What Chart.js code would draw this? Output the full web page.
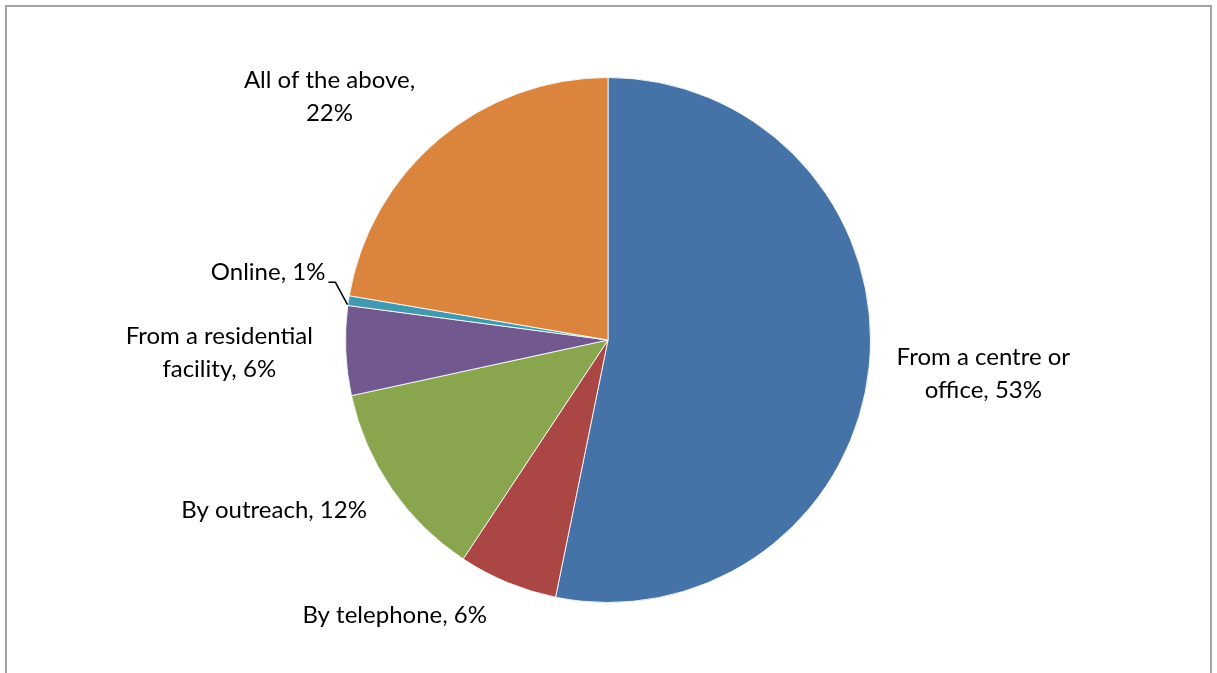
<!DOCTYPE html>
<html>
<head>
<meta charset="utf-8">
<script src="https://cdn.jsdelivr.net/npm/chart.js@4/dist/chart.umd.min.js"></script>
<style>
  html, body { margin: 0; padding: 0; background: #fff; overflow: hidden; }
  #wrap { position: relative; width: 1217px; height: 673px; }
  #frame {
    position: absolute; left: 5px; top: 5px; width: 1203px; height: 700px;
    border: 2px solid #a3a3a3; pointer-events: none;
  }
</style>
</head>
<body>
<div id="wrap">
  <canvas id="pieChart" width="1217" height="673"></canvas>
  <div id="frame"></div>
</div>
<script>
var categories = ["From a centre or office", "By telephone", "By outreach",
                  "From a residential facility", "Online", "All of the above"];
var shares = [53.2, 6.1, 12.3, 5.5, 0.6, 22.3];
var sliceColors = ["#4572A7", "#AA4643", "#89A54E", "#71588F", "#4198AF", "#DB843D"];

// label placement: distance past the rim, then a nudge
var labelPad = 25;
var nudges = [[3, 2], [-68, -6], [-20, -1], [-8, 0], [1, -22], [-38, 2]];
var FONT = '24px Lato';
var LINE_H = 33;
var WRAP_W = 210;

function wrapText(ctx, text, maxW) {
  var words = text.split(' ');
  var lines = [];
  var cur = '';
  words.forEach(function (w) {
    var test = cur ? cur + ' ' + w : w;
    if (cur && ctx.measureText(test).width > maxW) {
      lines.push(cur);
      cur = w;
    } else {
      cur = test;
    }
  });
  if (cur) lines.push(cur);
  return lines;
}

var sliceLabels = {
  id: 'sliceLabels',
  afterDatasetsDraw: function (chart) {
    var ctx = chart.ctx;
    var meta = chart.getDatasetMeta(0);
    ctx.save();
    ctx.font = FONT;
    ctx.fillStyle = '#000';
    ctx.textAlign = 'center';
    ctx.textBaseline = 'middle';
    meta.data.forEach(function (arc, i) {
      var p = arc.getProps(['x', 'y', 'startAngle', 'endAngle', 'outerRadius'], true);
      var mid = (p.startAngle + p.endAngle) / 2;
      var dx = Math.cos(mid), dy = Math.sin(mid);
      var r = p.outerRadius + labelPad;
      var text = categories[i] + ', ' + Math.round(shares[i]) + '%';
      var lines = wrapText(ctx, text, WRAP_W);
      var w = Math.max.apply(null, lines.map(function (l) { return ctx.measureText(l).width; }));
      var h = lines.length * LINE_H;
      var cx = p.x + r * dx + dx * w / 2 + nudges[i][0];
      var cy = p.y + r * dy + dy * h / 2 + nudges[i][1];
      lines.forEach(function (l, k) {
        ctx.fillText(l, cx, cy - h / 2 + LINE_H * (k + 0.5));
      });
      // thin slices get a leader line back to the rim
      if (shares[i] < 2) {
        var ex = p.x + p.outerRadius * dx, ey = p.y + p.outerRadius * dy;
        var lx = cx + w / 2 + 3, ly = cy + 10;
        ctx.beginPath();
        ctx.strokeStyle = '#000';
        ctx.lineWidth = 1.5;
        ctx.moveTo(lx, ly);
        ctx.lineTo(lx + 7, ly);
        ctx.lineTo(ex - 1, ey + 4);
        ctx.stroke();
      }
    });
    ctx.restore();
  }
};

new Chart(document.getElementById('pieChart').getContext('2d'), {
  type: 'pie',
  data: {
    labels: categories,
    datasets: [{
      data: shares,
      backgroundColor: sliceColors,
      borderColor: 'rgba(255,255,255,0.85)',
      borderWidth: 1
    }]
  },
  options: {
    responsive: false,
    animation: false,
    layout: { padding: { top: 77, bottom: 70, left: 0, right: 1 } },
    plugins: {
      legend: { display: false },
      tooltip: { enabled: false }
    }
  },
  plugins: [sliceLabels]
});
</script>
</body>
</html>
